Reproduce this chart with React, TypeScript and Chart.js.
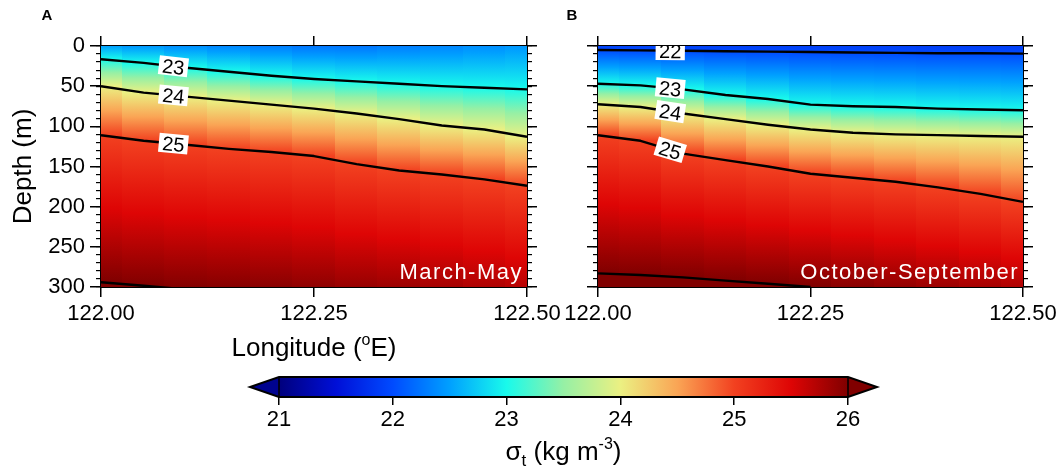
import React, { useEffect, useRef } from "react";
import { Chart, registerables } from "chart.js";

Chart.register(...registerables);

const FONT = "'Liberation Sans', Arial, Helvetica, sans-serif";

// ---------------- data ----------------
const LON = [122.0, 122.05, 122.1, 122.15, 122.2, 122.25, 122.3, 122.35, 122.4, 122.45, 122.5];
const LON_TICKS = [122.0, 122.25, 122.5];
const DEPTH_TICKS = [0, 50, 100, 150, 200, 250, 300];
const CBAR_TICKS = [21, 22, 23, 24, 25, 26];
const LABEL_LON = 122.085;

// Panel A (March-May): depth (m) of each isopycnal at each longitude
const A_SIGMA23 = [16.5, 21, 27, 32, 37, 41, 44, 47, 50, 52, 54];
const A_SIGMA24 = [50, 58, 63, 68, 73, 78, 84, 91, 99, 104, 113];
const A_SIGMA25 = [111, 118, 123, 128, 132, 137, 147, 155, 160, 166, 174];
const A_SIGMA26 = [294, 298.5, 303, null, null, null, null, null, null, null, null];
const A_SURFACE = [22.5, 22.45, 22.4, 22.35, 22.3, 22.25, 22.25, 22.3, 22.35, 22.4, 22.45];
const A_BOTTOM = [26.02, 26.01, 26.0, 25.97, 25.95, 25.92, 25.88, 25.85, 25.8, 25.75, 25.7];

// Panel B (October-September)
const B_SIGMA22 = [5, 5.5, 6, 6.5, 7, 7.5, 8, 8.5, 9, 9, 9.5];
const B_SIGMA23 = [47, 49, 54, 61, 66, 73, 75, 76, 78, 79, 80];
const B_SIGMA24 = [72.5, 76, 84, 91, 98, 104, 108, 110, 111, 112, 113];
const B_SIGMA25 = [111, 118, 134, 142, 150, 159, 164, 169, 176, 184, 194];
const B_SIGMA26 = [283, 285, 288, 292, 296, 300, null, null, null, null, null];
const B_SURFACE = [21.92, 21.92, 21.9, 21.9, 21.9, 21.9, 21.9, 21.9, 21.88, 21.88, 21.88];
const B_BOTTOM = [26.1, 26.08, 26.06, 26.04, 26.02, 26.0, 25.95, 25.9, 25.85, 25.8, 25.75];

// colour scale
const CMAP_VALUES = [21, 21.5, 22, 22.5, 23, 23.5, 24, 24.5, 25, 25.5, 26];
const CMAP_COLORS = [
  [0, 0, 125], [0, 15, 215], [0, 75, 255], [0, 160, 255], [25, 250, 235],
  [150, 240, 165], [235, 240, 130], [250, 165, 85], [242, 65, 32], [222, 5, 5], [128, 0, 0],
];

// ---------------- helpers ----------------
function cmap(v: number): string {
  const n = CMAP_VALUES.length;
  let c: number[];
  if (v <= CMAP_VALUES[0]) c = CMAP_COLORS[0];
  else if (v >= CMAP_VALUES[n - 1]) c = CMAP_COLORS[n - 1];
  else {
    c = CMAP_COLORS[n - 1];
    for (let i = 0; i < n - 1; i++) {
      if (v <= CMAP_VALUES[i + 1]) {
        const t = (v - CMAP_VALUES[i]) / (CMAP_VALUES[i + 1] - CMAP_VALUES[i]);
        const a = CMAP_COLORS[i], b = CMAP_COLORS[i + 1];
        c = [a[0] + (b[0] - a[0]) * t, a[1] + (b[1] - a[1]) * t, a[2] + (b[2] - a[2]) * t];
        break;
      }
    }
  }
  return `rgb(${Math.round(c[0])},${Math.round(c[1])},${Math.round(c[2])})`;
}

type Contour = { level: number; depths: (number | null)[]; label: boolean };
type Spec = {
  letter: string;
  caption: string;
  showY: boolean;
  showXTitle: boolean;
  surface: number[];
  bottom: number[];
  contours: Contour[];
  yWidth: number;
  padRight: number;
  letterX: number;
};

const PANEL_A: Spec = {
  letter: "A",
  caption: "March-May",
  showY: true,
  showXTitle: true,
  surface: A_SURFACE,
  bottom: A_BOTTOM,
  contours: [
    { level: 23, depths: A_SIGMA23, label: true },
    { level: 24, depths: A_SIGMA24, label: true },
    { level: 25, depths: A_SIGMA25, label: true },
    { level: 26, depths: A_SIGMA26, label: false },
  ],
  yWidth: 101,
  padRight: 53,
  letterX: 47,
};

const PANEL_B: Spec = {
  letter: "B",
  caption: "October-September",
  showY: false,
  showXTitle: false,
  surface: B_SURFACE,
  bottom: B_BOTTOM,
  contours: [
    { level: 22, depths: B_SIGMA22, label: true },
    { level: 23, depths: B_SIGMA23, label: true },
    { level: 24, depths: B_SIGMA24, label: true },
    { level: 25, depths: B_SIGMA25, label: true },
    { level: 26, depths: B_SIGMA26, label: false },
  ],
  yWidth: 58,
  padRight: 41,
  letterX: 32,
};

function profileNodes(spec: Spec, i: number) {
  const maxD = DEPTH_TICKS[DEPTH_TICKS.length - 1];
  const nodes: { d: number; v: number }[] = [{ d: 0, v: spec.surface[i] }];
  spec.contours.forEach((c) => {
    const d = c.depths[i];
    if (d != null) nodes.push({ d, v: c.level });
  });
  if (nodes[nodes.length - 1].d < maxD) nodes.push({ d: maxD, v: spec.bottom[i] });
  return nodes;
}

function makeFieldPlugin(spec: Spec) {
  return {
    id: "field",
    beforeDatasetsDraw(chart: any) {
      const { ctx, chartArea: ca, scales } = chart;
      const x = scales.x, y = scales.y;
      ctx.save();
      ctx.beginPath();
      ctx.rect(ca.left, ca.top, ca.right - ca.left, ca.bottom - ca.top);
      ctx.clip();
      for (let i = 0; i < LON.length; i++) {
        const lo = i === 0 ? LON[0] : (LON[i - 1] + LON[i]) / 2;
        const hi = i === LON.length - 1 ? LON[i] : (LON[i] + LON[i + 1]) / 2;
        const px0 = Math.floor(x.getPixelForValue(lo));
        const px1 = Math.ceil(x.getPixelForValue(hi));
        const nodes = profileNodes(spec, i);
        for (let j = 0; j < nodes.length - 1; j++) {
          const n0 = nodes[j], n1 = nodes[j + 1];
          const py0 = y.getPixelForValue(n0.d);
          const py1 = y.getPixelForValue(n1.d);
          if (py1 - py0 <= 0) continue;
          const g = ctx.createLinearGradient(0, py0, 0, py1);
          g.addColorStop(0, cmap(n0.v));
          const lo2 = Math.min(n0.v, n1.v), hi2 = Math.max(n0.v, n1.v);
          if (hi2 > lo2) {
            CMAP_VALUES.forEach((cv) => {
              if (cv > lo2 && cv < hi2) g.addColorStop((cv - n0.v) / (n1.v - n0.v), cmap(cv));
            });
          }
          g.addColorStop(1, cmap(n1.v));
          ctx.fillStyle = g;
          ctx.fillRect(px0, Math.floor(py0), px1 - px0, Math.ceil(py1) - Math.floor(py0) + 1);
        }
      }
      ctx.restore();
    },
    afterDatasetsDraw(chart: any) {
      const { ctx, chartArea: ca, scales } = chart;
      const x = scales.x, y = scales.y;
      ctx.save();
      ctx.beginPath();
      ctx.rect(ca.left, ca.top, ca.right - ca.left, ca.bottom - ca.top);
      ctx.clip();
      // contour labels
      spec.contours.forEach((c) => {
        if (!c.label) return;
        const ds = c.depths;
        for (let i = 0; i < LON.length - 1; i++) {
          const d0 = ds[i], d1 = ds[i + 1];
          if (LABEL_LON >= LON[i] && LABEL_LON <= LON[i + 1] && d0 != null && d1 != null) {
            const t = (LABEL_LON - LON[i]) / (LON[i + 1] - LON[i]);
            const d = d0 + t * (d1 - d0);
            const ang = Math.atan2(
              y.getPixelForValue(d1) - y.getPixelForValue(d0),
              x.getPixelForValue(LON[i + 1]) - x.getPixelForValue(LON[i])
            );
            const px = x.getPixelForValue(LABEL_LON), py = y.getPixelForValue(d);
            ctx.save();
            ctx.translate(px, py);
            ctx.rotate(ang);
            ctx.font = `20px ${FONT}`;
            const txt = String(c.level);
            const w = ctx.measureText(txt).width + 7;
            const h = 19;
            ctx.fillStyle = "#fff";
            ctx.fillRect(-w / 2, -h / 2, w, h);
            ctx.fillStyle = "#000";
            ctx.textAlign = "center";
            ctx.textBaseline = "alphabetic";
            ctx.fillText(txt, 0, 7.5);
            ctx.restore();
            break;
          }
        }
      });
      // caption
      ctx.font = `22px ${FONT}`;
      (ctx as any).letterSpacing = "1.5px";
      ctx.fillStyle = "#fff";
      ctx.textAlign = "right";
      ctx.textBaseline = "alphabetic";
      ctx.fillText(spec.caption, ca.right - 4, ca.bottom - 8);
      (ctx as any).letterSpacing = "0px";
      ctx.restore();
    },
    afterDraw(chart: any) {
      const { ctx, chartArea: ca } = chart;
      ctx.save();
      ctx.fillStyle = "#000";
      ctx.font = `bold 15px ${FONT}`;
      ctx.textAlign = "center";
      ctx.textBaseline = "middle";
      ctx.fillText(spec.letter, spec.letterX, 16);
      if (spec.showXTitle) {
        const cx = (ca.left + ca.right) / 2;
        const base = 356;
        const parts = [
          { t: "Longitude (", s: 26, dy: 0 },
          { t: "o", s: 16, dy: -11 },
          { t: "E)", s: 26, dy: 0 },
        ];
        let total = 0;
        parts.forEach((p) => {
          ctx.font = `${p.s}px ${FONT}`;
          total += ctx.measureText(p.t).width;
        });
        let xx = cx - total / 2;
        ctx.textAlign = "left";
        ctx.textBaseline = "alphabetic";
        parts.forEach((p) => {
          ctx.font = `${p.s}px ${FONT}`;
          ctx.fillText(p.t, xx, base + p.dy);
          xx += ctx.measureText(p.t).width;
        });
      }
      ctx.restore();
    },
  };
}

function axisCommon() {
  return {
    type: "linear" as const,
    grid: { drawOnChartArea: false, color: "#000", lineWidth: 1.5 },
    border: { display: false },
  };
}

function panelConfig(spec: Spec): any {
  const datasets = spec.contours.map((c) => ({
    label: String(c.level),
    data: LON.map((lon, i) => ({ x: lon, y: c.depths[i] })),
    borderColor: "#000",
    borderWidth: 2.4,
    pointRadius: 0,
    tension: 0,
    fill: false,
    spanGaps: false,
    borderJoinStyle: "round",
  }));
  const lonTicks = (s: any) => {
    s.ticks = LON_TICKS.map((v) => ({ value: v }));
  };
  const depthTicks = (s: any) => {
    s.ticks = DEPTH_TICKS.map((v) => ({ value: v }));
  };
  const frame = { display: true, color: "#000", width: 2 };
  return {
    type: "line",
    data: { datasets },
    options: {
      responsive: false,
      animation: false,
      devicePixelRatio: 1,
      events: [],
      layout: { padding: { left: 0, top: 46, right: spec.padRight, bottom: 0 } },
      plugins: { legend: { display: false }, tooltip: { enabled: false }, title: { display: false } },
      scales: {
        x: {
          ...axisCommon(),
          position: "bottom",
          min: LON[0],
          max: LON[LON.length - 1],
          afterBuildTicks: lonTicks,
          grid: { drawOnChartArea: false, color: "#000", lineWidth: 1.5, tickLength: 10 },
          border: frame,
          ticks: {
            color: "#000",
            font: { family: FONT, size: 22 },
            padding: 4,
            autoSkip: false,
            maxRotation: 0,
            callback: (v: any) => Number(v).toFixed(2),
          },
          afterFit: (s: any) => {
            s.height = 93;
          },
        },
        xTop: {
          ...axisCommon(),
          position: "top",
          min: LON[0],
          max: LON[LON.length - 1],
          afterBuildTicks: lonTicks,
          grid: { drawOnChartArea: false, color: "#000", lineWidth: 1.5, tickLength: 10 },
          border: frame,
          ticks: { display: false },
          afterFit: (s: any) => {
            s.height = 0;
          },
        },
        y: {
          ...axisCommon(),
          position: "left",
          weight: 1,
          reverse: true,
          min: DEPTH_TICKS[0],
          max: DEPTH_TICKS[DEPTH_TICKS.length - 1],
          afterBuildTicks: depthTicks,
          grid: { drawOnChartArea: false, color: "#000", lineWidth: 1.5, tickLength: 11 },
          border: frame,
          ticks: {
            display: spec.showY,
            color: "#000",
            font: { family: FONT, size: 22 },
            padding: 5,
            autoSkip: false,
          },
          title: {
            display: spec.showY,
            text: "Depth (m)",
            color: "#000",
            font: { family: FONT, size: 26 },
            padding: { top: 8, bottom: 0 },
          },
          afterFit: (s: any) => {
            s.width = spec.yWidth;
          },
        },
        yMinor: {
          ...axisCommon(),
          position: "left",
          weight: 0,
          reverse: true,
          min: DEPTH_TICKS[0],
          max: DEPTH_TICKS[DEPTH_TICKS.length - 1],
          grid: { drawOnChartArea: false, color: "#000", lineWidth: 1.2, tickLength: 5 },
          ticks: { display: false, stepSize: 10, maxTicksLimit: 100 },
          afterFit: (s: any) => {
            s.width = 0;
          },
        },
        yRight: {
          ...axisCommon(),
          position: "right",
          weight: 0,
          reverse: true,
          min: DEPTH_TICKS[0],
          max: DEPTH_TICKS[DEPTH_TICKS.length - 1],
          afterBuildTicks: depthTicks,
          grid: { drawOnChartArea: false, color: "#000", lineWidth: 1.5, tickLength: 10 },
          border: frame,
          ticks: { display: false },
          afterFit: (s: any) => {
            s.width = 0;
          },
        },
        yRightMinor: {
          ...axisCommon(),
          position: "right",
          weight: 1,
          reverse: true,
          min: DEPTH_TICKS[0],
          max: DEPTH_TICKS[DEPTH_TICKS.length - 1],
          grid: { drawOnChartArea: false, color: "#000", lineWidth: 1.2, tickLength: 5 },
          ticks: { display: false, stepSize: 10, maxTicksLimit: 100 },
          afterFit: (s: any) => {
            s.width = 0;
          },
        },
      },
    },
    plugins: [makeFieldPlugin(spec)],
  };
}

const colorbarPlugin = {
  id: "colorbar",
  beforeDatasetsDraw(chart: any) {
    const { ctx, chartArea: ca, scales } = chart;
    const x = scales.x;
    const v0 = CBAR_TICKS[0], v1 = CBAR_TICKS[CBAR_TICKS.length - 1];
    const x0 = x.getPixelForValue(v0), x1 = x.getPixelForValue(v1);
    const top = ca.top, bot = ca.bottom, mid = (top + bot) / 2;
    const ext = 29;
    ctx.save();
    const g = ctx.createLinearGradient(x0, 0, x1, 0);
    CMAP_VALUES.forEach((v) => g.addColorStop((x.getPixelForValue(v) - x0) / (x1 - x0), cmap(v)));
    ctx.fillStyle = g;
    ctx.fillRect(x0, top, x1 - x0, bot - top);
    ctx.fillStyle = cmap(v0 + 0.1);
    ctx.beginPath();
    ctx.moveTo(x0, top);
    ctx.lineTo(x0 - ext, mid);
    ctx.lineTo(x0, bot);
    ctx.closePath();
    ctx.fill();
    ctx.fillStyle = cmap(v1);
    ctx.beginPath();
    ctx.moveTo(x1, top);
    ctx.lineTo(x1 + ext, mid);
    ctx.lineTo(x1, bot);
    ctx.closePath();
    ctx.fill();
    ctx.strokeStyle = "#000";
    ctx.lineWidth = 2;
    ctx.lineJoin = "miter";
    ctx.beginPath();
    ctx.moveTo(x0, top);
    ctx.lineTo(x1, top);
    ctx.lineTo(x1 + ext, mid);
    ctx.lineTo(x1, bot);
    ctx.lineTo(x0, bot);
    ctx.lineTo(x0 - ext, mid);
    ctx.closePath();
    ctx.stroke();
    ctx.lineWidth = 1.5;
    ctx.beginPath();
    ctx.moveTo(x0, top);
    ctx.lineTo(x0, bot);
    ctx.moveTo(x1, top);
    ctx.lineTo(x1, bot);
    ctx.stroke();
    // title: sigma_t (kg m^-3)
    const cx = (x0 + x1) / 2;
    const base = 100;
    const parts = [
      { t: "\u03c3", s: 26, dy: 0 },
      { t: "t", s: 17, dy: 6 },
      { t: " (kg m", s: 26, dy: 0 },
      { t: "-3", s: 16, dy: -11 },
      { t: ")", s: 26, dy: 0 },
    ];
    let total = 0;
    parts.forEach((p) => {
      ctx.font = `${p.s}px ${FONT}`;
      total += ctx.measureText(p.t).width;
    });
    let xx = cx - total / 2;
    ctx.fillStyle = "#000";
    ctx.textAlign = "left";
    ctx.textBaseline = "alphabetic";
    parts.forEach((p) => {
      ctx.font = `${p.s}px ${FONT}`;
      ctx.fillText(p.t, xx, base + p.dy);
      xx += ctx.measureText(p.t).width;
    });
    ctx.restore();
  },
};

function colorbarConfig(): any {
  return {
    type: "line",
    data: { datasets: [] },
    options: {
      responsive: false,
      animation: false,
      devicePixelRatio: 1,
      events: [],
      layout: { padding: { left: 279, top: 17, right: 216, bottom: 0 } },
      plugins: { legend: { display: false }, tooltip: { enabled: false } },
      scales: {
        x: {
          type: "linear",
          position: "bottom",
          min: CBAR_TICKS[0],
          max: CBAR_TICKS[CBAR_TICKS.length - 1],
          afterBuildTicks: (s: any) => {
            s.ticks = CBAR_TICKS.map((v) => ({ value: v }));
          },
          grid: { drawOnChartArea: false, color: "#000", lineWidth: 1.5, tickLength: 8 },
          border: { display: false },
          ticks: { color: "#000", font: { family: FONT, size: 22 }, padding: 2, autoSkip: false, maxRotation: 0 },
          afterFit: (s: any) => {
            s.height = 74;
          },
        },
        y: { display: false, min: 0, max: 1 },
      },
    },
    plugins: [colorbarPlugin],
  };
}

export default function App() {
  const aRef = useRef<HTMLCanvasElement>(null);
  const bRef = useRef<HTMLCanvasElement>(null);
  const cRef = useRef<HTMLCanvasElement>(null);
  useEffect(() => {
    document.body.style.margin = "0";
    const charts = [
      new Chart(aRef.current as HTMLCanvasElement, panelConfig(PANEL_A)),
      new Chart(bRef.current as HTMLCanvasElement, panelConfig(PANEL_B)),
      new Chart(cRef.current as HTMLCanvasElement, colorbarConfig()),
    ];
    return () => charts.forEach((c) => c.destroy());
  }, []);
  return (
    <div style={{ position: "absolute", left: 0, top: 0, width: 1064, height: 471, background: "#fff", overflow: "hidden" }}>
      <canvas ref={aRef} width={580} height={380} style={{ position: "absolute", left: 0, top: 0, width: 580, height: 380 }} />
      <canvas ref={bRef} width={524} height={380} style={{ position: "absolute", left: 540, top: 0, width: 524, height: 380 }} />
      <canvas ref={cRef} width={1064} height={111} style={{ position: "absolute", left: 0, top: 360, width: 1064, height: 111 }} />
    </div>
  );
}
